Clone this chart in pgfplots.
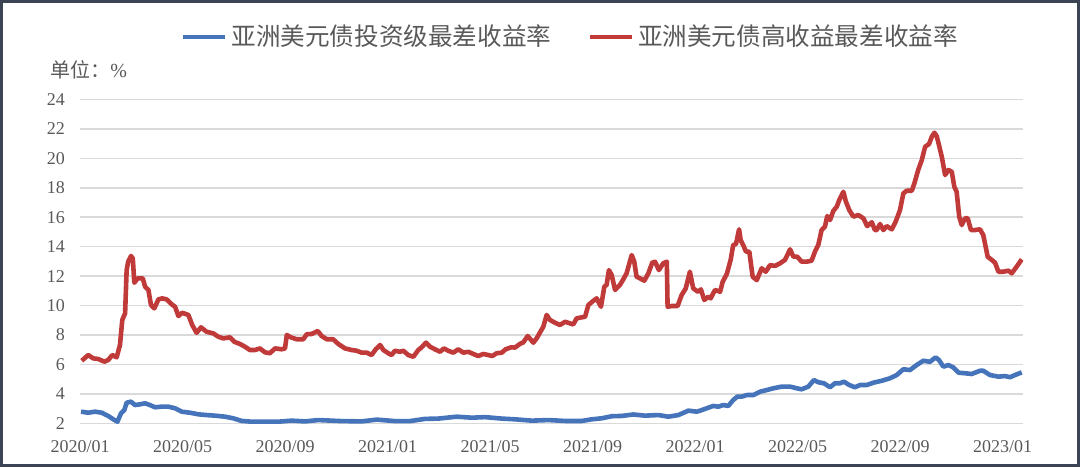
\documentclass[border=0pt]{standalone}
\usepackage{fontspec}
\setmainfont{Liberation Serif}
\newfontfamily\cjk{Noto Sans CJK SC}
\usepackage{pgfplots}
\usepackage{pgfplotstable}
\pgfplotsset{compat=1.18}

\definecolor{igblue}{RGB}{70,116,186}
\definecolor{hyred}{RGB}{192,58,58}
\definecolor{txtgray}{RGB}{89,89,89}
\definecolor{gridgray}{RGB}{217,217,217}
\definecolor{framecol}{RGB}{58,68,84}

% x = months since 2020/01, y = yield in %
\pgfplotstableread{
m y
0.04 2.79
0.32 2.72
0.59 2.79
0.85 2.72
1.10 2.50
1.30 2.27
1.46 2.11
1.60 2.68
1.73 2.90
1.82 3.40
1.99 3.47
2.15 3.24
2.34 3.29
2.54 3.36
2.73 3.24
2.93 3.09
3.19 3.13
3.45 3.13
3.71 3.02
3.97 2.79
4.29 2.72
4.62 2.61
4.94 2.56
5.27 2.52
5.66 2.45
5.98 2.34
6.31 2.16
6.70 2.11
7.22 2.11
7.74 2.11
8.26 2.18
8.78 2.13
9.30 2.22
10.21 2.15
10.99 2.13
11.58 2.25
12.29 2.15
12.88 2.15
13.46 2.30
13.98 2.32
14.70 2.45
15.29 2.38
15.80 2.42
16.46 2.32
16.98 2.27
17.63 2.18
18.28 2.22
18.93 2.16
19.58 2.16
19.97 2.27
20.36 2.34
20.75 2.48
21.14 2.50
21.59 2.60
22.05 2.52
22.57 2.56
22.96 2.45
23.35 2.56
23.74 2.86
24.07 2.79
24.20 2.86
24.46 3.02
24.71 3.18
24.91 3.13
25.10 3.24
25.30 3.18
25.49 3.58
25.65 3.81
25.82 3.81
26.02 3.92
26.28 3.92
26.54 4.15
26.80 4.26
27.06 4.38
27.38 4.49
27.71 4.49
27.97 4.38
28.16 4.31
28.42 4.49
28.64 4.94
28.81 4.79
29.03 4.72
29.27 4.45
29.46 4.72
29.66 4.72
29.81 4.83
30.02 4.60
30.24 4.45
30.44 4.60
30.70 4.60
30.96 4.76
31.29 4.89
31.61 5.06
31.87 5.28
32.13 5.67
32.39 5.62
32.65 5.96
32.91 6.25
33.17 6.18
33.39 6.48
33.52 6.30
33.69 5.85
33.89 5.96
34.08 5.80
34.28 5.44
34.54 5.40
34.80 5.35
35.12 5.57
35.25 5.57
35.51 5.28
35.84 5.17
36.10 5.21
36.29 5.13
36.49 5.28
36.75 5.46
}\igdata

\pgfplotstableread{
m y
0.07 6.25
0.32 6.64
0.52 6.41
0.71 6.37
0.95 6.19
1.10 6.30
1.26 6.64
1.43 6.48
1.56 7.32
1.65 9.02
1.76 9.47
1.82 12.41
1.88 12.98
1.99 13.37
2.06 13.20
2.12 11.55
2.25 11.85
2.45 11.85
2.54 11.28
2.67 11.06
2.77 10.04
2.90 9.81
3.06 10.42
3.21 10.49
3.38 10.42
3.58 10.08
3.71 9.92
3.84 9.29
3.99 9.51
4.23 9.36
4.38 8.68
4.55 8.15
4.72 8.52
4.94 8.22
5.20 8.11
5.40 7.88
5.59 7.77
5.85 7.84
6.02 7.54
6.24 7.39
6.44 7.20
6.63 6.98
6.83 6.98
7.02 7.09
7.22 6.82
7.41 6.76
7.61 7.09
7.87 7.03
8.00 7.09
8.07 8.00
8.23 7.84
8.46 7.71
8.71 7.71
8.85 8.05
9.04 8.07
9.28 8.27
9.43 7.93
9.63 7.71
9.88 7.71
10.08 7.39
10.34 7.09
10.60 6.98
10.80 6.93
10.99 6.80
11.19 6.80
11.38 6.64
11.54 7.03
11.71 7.32
11.84 6.98
12.03 6.76
12.16 6.64
12.29 6.93
12.49 6.86
12.62 6.93
12.81 6.64
13.01 6.52
13.20 6.98
13.33 7.16
13.50 7.48
13.66 7.20
13.85 7.03
14.05 6.86
14.20 7.09
14.37 6.93
14.57 6.80
14.76 7.03
14.96 6.80
15.15 6.86
15.35 6.71
15.54 6.57
15.74 6.71
15.93 6.64
16.09 6.57
16.26 6.76
16.46 6.80
16.61 7.03
16.82 7.16
16.98 7.15
17.17 7.40
17.30 7.50
17.47 7.93
17.69 7.48
17.82 7.77
17.99 8.29
18.08 8.56
18.21 9.36
18.34 9.02
18.54 8.83
18.73 8.68
18.93 8.90
19.12 8.79
19.25 8.72
19.38 9.13
19.58 9.20
19.71 9.24
19.84 10.04
19.99 10.26
20.16 10.49
20.33 9.92
20.46 11.28
20.55 11.40
20.64 12.41
20.75 12.07
20.88 11.06
21.07 11.40
21.20 11.78
21.33 12.19
21.53 13.43
21.63 12.98
21.72 11.96
21.85 11.85
22.02 11.69
22.18 12.19
22.33 12.91
22.44 12.98
22.59 12.41
22.76 12.87
22.90 12.98
22.93 9.92
23.09 9.97
23.32 9.97
23.48 10.72
23.64 11.17
23.80 12.30
23.93 11.17
24.11 10.94
24.23 11.10
24.36 10.38
24.52 10.60
24.61 10.49
24.78 11.06
24.98 10.94
25.08 11.62
25.24 12.14
25.39 13.10
25.49 14.11
25.60 14.18
25.72 15.18
25.78 14.45
25.88 14.11
25.99 13.66
26.12 13.66
26.25 11.96
26.41 11.73
26.60 12.53
26.76 12.30
26.93 12.75
27.12 12.69
27.32 12.87
27.51 13.10
27.71 13.82
27.84 13.32
27.99 13.32
28.16 12.98
28.36 12.98
28.55 13.05
28.68 13.66
28.81 14.11
28.94 15.13
29.07 15.36
29.16 16.08
29.27 15.81
29.40 16.44
29.53 16.71
29.63 17.17
29.79 17.73
29.89 17.05
30.02 16.49
30.18 16.04
30.37 16.15
30.57 15.93
30.72 15.40
30.90 15.66
31.02 15.13
31.09 15.13
31.22 15.54
31.35 15.13
31.48 15.40
31.68 15.18
31.83 15.70
32.00 16.49
32.13 17.62
32.26 17.80
32.46 17.80
32.56 18.30
32.71 19.21
32.85 19.89
32.98 20.79
33.13 20.97
33.24 21.47
33.34 21.74
33.43 21.52
33.52 20.91
33.63 20.11
33.76 18.87
33.89 19.21
34.02 19.09
34.12 18.07
34.21 17.73
34.31 16.04
34.41 15.47
34.54 15.93
34.64 15.93
34.77 15.13
34.93 15.13
35.12 15.18
35.25 14.79
35.42 13.32
35.58 13.10
35.71 12.91
35.84 12.30
36.03 12.30
36.23 12.37
36.36 12.19
36.55 12.64
36.75 13.14
}\hydata

\begin{document}
\begin{tikzpicture}
\useasboundingbox (0,0) rectangle (540pt,233.5pt);
\draw[framecol, line width=1.5pt] (0.75pt,0.75pt) rectangle (539.25pt,232.75pt);
\node[anchor=west, text=txtgray, font=\fontsize{10}{12}\selectfont, inner sep=0pt]
    at (25pt,198.5pt) {{\cjk 单位：}\%};
\begin{axis}[
    at={(40pt,21.85pt)}, anchor=south west,
    scale only axis,
    width=471.5pt, height=161.9pt,
    xmin=0, xmax=36.8,
    ymin=2, ymax=24,
    xtick={0,4,...,36},
    xticklabels={2020/01,2020/05,2020/09,2021/01,2021/05,2021/09,2022/01,2022/05,2022/09,2023/01},
    ytick={2,4,...,24},
    ymajorgrids,
    grid style={draw=gridgray, line width=0.8pt},
    axis line style={draw=none},
    major tick length=0pt,
    /pgf/number format/assume math mode=true,
    tick label style={font=\fontsize{9}{10}\selectfont, text=txtgray},
    yticklabel style={xshift=-4pt},
    xticklabel style={yshift=-5pt},
    legend columns=2,
    legend style={draw=none, fill=none, at={(0.521,1.193)}, anchor=center,
        font=\cjk\fontsize{12.3}{13}\selectfont, text=txtgray,
        /tikz/every even column/.append style={column sep=16pt}},
    legend image code/.code={\draw[#1, line width=2.4pt] (0pt,0pt) -- (21pt,0pt);},
    line join=round,
]
\addplot[igblue, line width=2.3pt] table[x=m, y=y] {\igdata};
\addlegendentry{亚洲美元债投资级最差收益率}
\addplot[hyred, line width=2.3pt] table[x=m, y=y] {\hydata};
\addlegendentry{亚洲美元债高收益最差收益率}
\end{axis}
\end{tikzpicture}
\end{document}
